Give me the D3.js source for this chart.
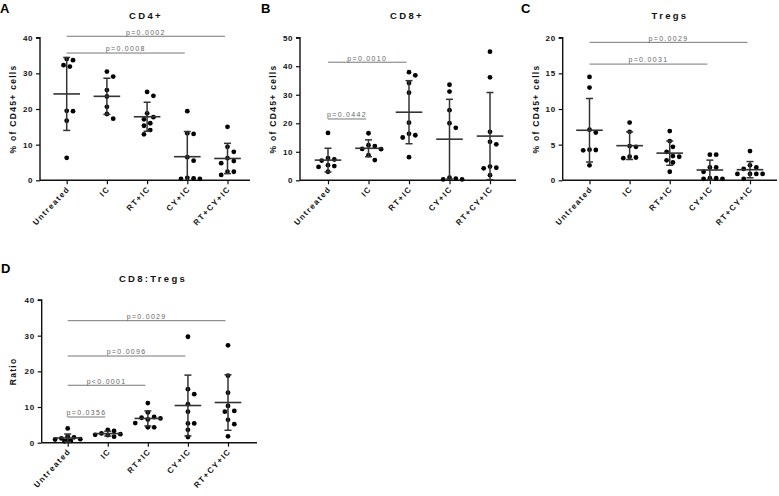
<!DOCTYPE html>
<html><head><meta charset="utf-8">
<script src="https://cdn.jsdelivr.net/npm/d3@7/dist/d3.min.js"></script>
<style>
body{margin:0;background:#fff;}
svg{display:block;font-family:"Liberation Sans",Arial,sans-serif;}
</style></head>
<body><svg id="c" width="779" height="496"></svg>
<script>
// ---------- DATA ----------
const categories = ["Untreated","IC","RT+IC","CY+IC","RT+CY+IC"];

const cd4Values = [
  [33.7,34.0,32.3,31.9,19.4,19.5,16.7,6.3],
  [29.1,30.5,25.3,23.5,20.6,18.6,17.3],
  [24.8,23.7,18.8,17.7,17.1,16.0,15.3,14.1,12.9],
  [19.4,13.0,13.2,6.5,5.5,0.5,0.4,0.4,0.7],
  [15.0,9.4,8.0,6.2,5.4,4.8,2.4,2.4,1.5]
];
const cd8Values = [
  [16.6,7.8,7.3,6.9,5.3,5.0,4.7,3.0],
  [16.5,12.3,12.0,10.9,11.0,8.8,7.1],
  [37.9,36.8,34.1,30.7,20.2,15.8,16.3,15.0,8.1],
  [33.5,31.1,24.6,20.0,18.4,0.6,0.3,0.3,0.9],
  [45.1,36.1,17.0,12.6,13.5,4.8,4.2,4.4,1.8]
];
const tregValues = [
  [14.5,13.0,7.1,6.7,4.25,4.2,4.3,2.1],
  [8.1,6.8,4.8,4.7,3.2,3.1,3.3],
  [6.9,5.5,4.7,4.0,3.4,3.3,2.8,2.5,1.2],
  [3.6,3.6,1.8,1.8,1.2,0.3,0.2,0.2,0.3],
  [4.1,2.1,1.8,1.6,0.9,0.9,0.9,0.9,0.2]
];
const ratioValues = [
  [4.0,1.8,1.5,1.2,1.0,0.9,0.7,0.5,0.4],
  [3.6,3.3,2.4,2.6,2.2,1.7,2.1],
  [11.1,8.5,7.2,6.8,7.0,6.5,5.5,4.3,4.3],
  [29.7,15.0,13.6,10.8,8.7,5.4,5.4,3.6,1.6],
  [27.3,18.8,14.0,10.3,8.9,8.7,6.4,5.2,1.8]
];

const cd4Ticks = [0,10,20,30,40];
const cd8Ticks = [0,10,20,30,40,50];
const tregTicks = [0,5,10,15,20];
const ratioTicks = [0,10,20,30,40];

const cd4Sig = [
  {from:"Untreated", to:"RT+CY+IC", y:40.4, label:"p=0.0002"},
  {from:"Untreated", to:"CY+IC", y:35.7, label:"p=0.0008"}
];
const cd8Sig = [
  {from:"Untreated", to:"RT+IC", y:41.4, label:"p=0.0010"},
  {from:"Untreated", to:"IC", y:21.5, label:"p=0.0442"}
];
const tregSig = [
  {from:"Untreated", to:"RT+CY+IC", y:19.35, label:"p=0.0029"},
  {from:"Untreated", to:"CY+IC", y:16.3, label:"p=0.0031"}
];
const ratioSig = [
  {from:"Untreated", to:"RT+CY+IC", y:34.2, label:"p=0.0029"},
  {from:"Untreated", to:"CY+IC", y:24.3, label:"p=0.0096"},
  {from:"Untreated", to:"RT+IC", y:16.1, label:"p<0.0001"},
  {from:"Untreated", to:"IC", y:7.2, label:"p=0.0356"}
];

// ---------- LAYOUT ----------
const panels = [
  {letter:"A", title:"CD4+", ylabel:"% of CD45+ cells", values:cd4Values, ticks:cd4Ticks, sig:cd4Sig,
   ax0:40, ax1:250, c0:66.7, c1:227.5, yTop:37.7, yBot:180.3, letterX:0, letterY:13.3, titleX:146, titleY:18.5, ylabX:16},
  {letter:"B", title:"CD8+", ylabel:"% of CD45+ cells", values:cd8Values, ticks:cd8Ticks, sig:cd8Sig,
   ax0:300, ax1:516, c0:328, c1:490, yTop:37.7, yBot:180.3, letterX:261, letterY:13.3, titleX:407, titleY:18.5, ylabX:276},
  {letter:"C", title:"Tregs", ylabel:"% of CD45+ cells", values:tregValues, ticks:tregTicks, sig:tregSig,
   ax0:562.7, ax1:777, c0:589.5, c1:750, yTop:37.7, yBot:180.3, letterX:521, letterY:13.3, titleX:670, titleY:18.5, ylabX:539},
  {letter:"D", title:"CD8:Tregs", ylabel:"Ratio", values:ratioValues, ticks:ratioTicks, sig:ratioSig,
   ax0:41.7, ax1:257, c0:67.7, c1:228, yTop:300, yBot:442.7, letterX:1, letterY:272.5, titleX:153, titleY:281.5, ylabX:16}
];

const svg = d3.select("#c");
const R = 2.4;

function swarm(vals, y) {
  // deterministic beeswarm, limited width: nearest free offset, else least-overlapping one
  const pts = vals.map((v,i)=>({v, py:y(v), i})).sort((a,b)=>b.v-a.v);
  const placed = [];
  const step = 6.3;
  const cands=[0];
  for(let k=1;k<=4;k++){ cands.push(k*step/2, -k*step/2); }
  pts.forEach(p=>{
    let best=null, bestD=-1;
    for(const dx of cands){
      const dmin = placed.length ? d3.min(placed,q=>Math.hypot(q.dx-dx,q.py-p.py)) : Infinity;
      if(dmin>=step){best=dx;break;}
      if(dmin>bestD+0.8){bestD=dmin;best=dx;}
    }
    p.dx=best;
    placed.push(p);
  });
  return placed;
}

panels.forEach(P=>{
  const g = svg.append("g");
  const x = d3.scalePoint().domain(categories).range([P.c0,P.c1]);
  const y = d3.scaleLinear().domain([P.ticks[0], P.ticks[P.ticks.length-1]]).range([P.yBot,P.yTop]);

  // panel letter
  g.append("text").attr("x",P.letterX).attr("y",P.letterY).text(P.letter)
    .attr("font-size",13).attr("font-weight","bold").attr("fill","#000");
  // title
  g.append("text").attr("x",P.titleX).attr("y",P.titleY).text(P.title)
    .attr("text-anchor","middle").attr("font-size",9.5).attr("font-weight","bold")
    .attr("letter-spacing",2.3).attr("fill","#111");

  // y axis
  const yAxis = d3.axisLeft(y).tickValues(P.ticks).tickSize(4).tickPadding(3).tickFormat(d3.format("d"));
  const ya = g.append("g").attr("transform",`translate(${P.ax0},0)`).call(yAxis);
  ya.select(".domain").attr("stroke","#111").attr("stroke-width",1.4).attr("d",`M-4,${P.yTop}H0V${P.yBot}`);
  ya.selectAll(".tick line").attr("stroke","#111").attr("stroke-width",1.2);
  ya.selectAll(".tick text").attr("font-size",8).attr("font-weight","bold").attr("fill","#111")
    .attr("font-family","Liberation Sans,Arial,sans-serif").attr("letter-spacing",0.6);

  // x axis
  const xa = g.append("g").attr("transform",`translate(0,${P.yBot})`)
    .call(d3.axisBottom(x).tickSize(4).tickPadding(2));
  xa.select(".domain").attr("stroke","#111").attr("stroke-width",1.4).attr("d",`M${P.ax0},0H${P.ax1}`);
  xa.selectAll(".tick line").attr("stroke","#111").attr("stroke-width",1.2);
  xa.selectAll(".tick text")
    .attr("font-size",8).attr("font-weight","bold").attr("fill","#111")
    .attr("font-family","Liberation Sans,Arial,sans-serif").attr("letter-spacing",1.4)
    .attr("text-anchor","end").attr("dy",0).attr("y",0)
    .attr("transform","translate(3,9) rotate(-47)");

  // y label
  const ymid = (P.yTop+P.yBot)/2;
  g.append("text").attr("transform",`translate(${P.ylabX},${ymid}) rotate(-90)`)
    .attr("text-anchor","middle").attr("font-size",8.5).attr("font-weight","bold")
    .attr("letter-spacing",1.3).attr("fill","#111").text(P.ylabel);

  // data
  P.values.forEach((vals,ci)=>{
    const cx = x(categories[ci]);
    const m = d3.mean(vals), sd = d3.deviation(vals);
    const pts = swarm(vals,y);
    g.selectAll(null).data(pts).enter().append("circle")
      .attr("cx",d=>cx+d.dx).attr("cy",d=>d.py).attr("r",R).attr("fill","#000");
    const eg = g.append("g").attr("stroke","#333").attr("stroke-width",1.5).attr("fill","none");
    const top = y(m+sd), bot = y(Math.max(P.ticks[0], m-sd));
    eg.append("line").attr("x1",cx).attr("x2",cx).attr("y1",top).attr("y2",bot);
    eg.append("line").attr("x1",cx-3.5).attr("x2",cx+3.5).attr("y1",top).attr("y2",top);
    if (m-sd > P.ticks[0]) eg.append("line").attr("x1",cx-3.5).attr("x2",cx+3.5).attr("y1",bot).attr("y2",bot);
    eg.append("line").attr("x1",cx-13.3).attr("x2",cx+13.3).attr("y1",y(m)).attr("y2",y(m)).attr("stroke-width",1.6);
  });

  // significance bars
  P.sig.forEach(s=>{
    const x1 = x(s.from), x2 = x(s.to)-2.5, yy = y(s.y);
    g.append("line").attr("x1",x1).attr("x2",x2).attr("y1",yy).attr("y2",yy)
      .attr("stroke","#777").attr("stroke-width",1);
    g.append("text").attr("x",(x1+x2)/2).attr("y",yy-1.6).attr("text-anchor","middle")
      .attr("font-size",7).attr("letter-spacing",1.3).attr("fill","#666").text(s.label);
  });
});
</script></body></html>
